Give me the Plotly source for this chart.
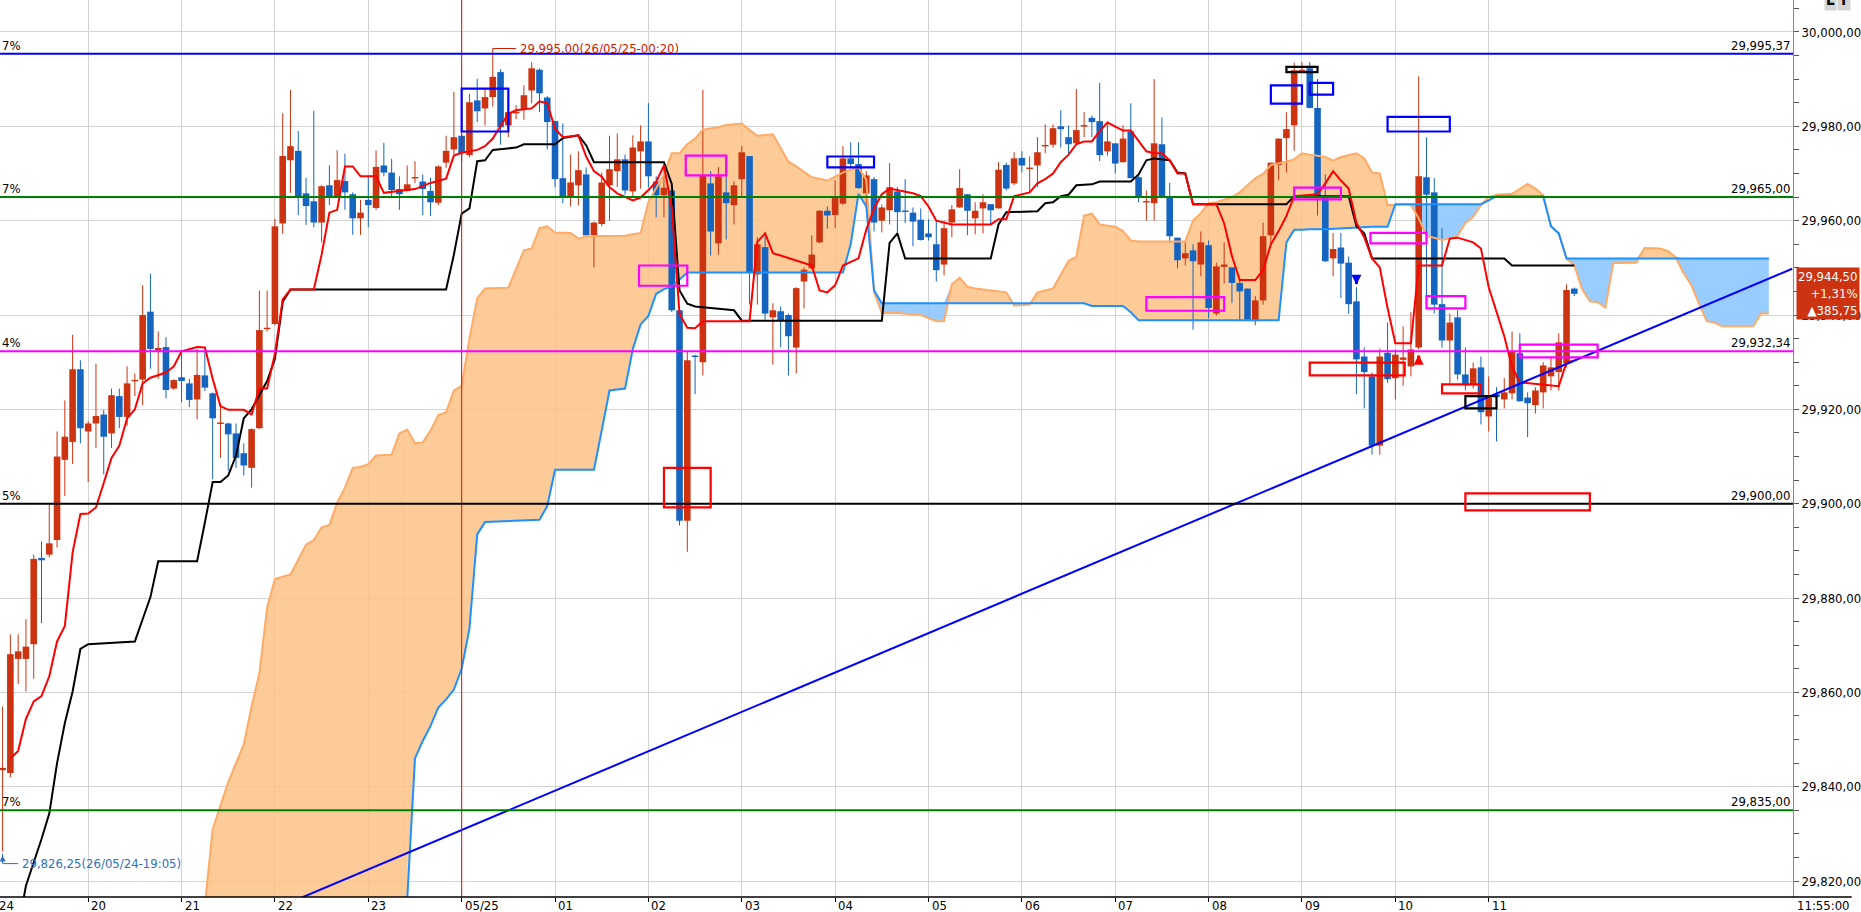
import numpy as np
import pandas as pd
import plotly.graph_objects as go

# 5-minute bars from 26/05/24 19:05 to 26/05/25 11:55
bar_open = [
    29843.5, 29842.9, 29867.1, 29867.1, 29870.2, 29888.5, 29889.2, 29892.3, 29909.3, 29913.1,
    29928.5, 29915.3, 29917.0, 29918.9, 29914.9, 29922.8, 29918.4, 29926.0, 29926.3, 29940.7,
    29932.5, 29933.2, 29924.4, 29926.8, 29925.5, 29922.1, 29927.2, 29923.4, 29917.0, 29917.0,
    29914.9, 29910.7, 29907.6, 29916.0, 29937.0, 29938.1, 29959.4, 29972.8, 29974.8, 29965.8,
    29964.1, 29959.6, 29967.5, 29965.2, 29968.4, 29965.6, 29960.5, 29964.4, 29962.7, 29971.7,
    29970.2, 29966.7, 29966.3, 29969.0, 29968.3, 29966.3, 29963.8, 29972.3, 29975.1, 29978.0,
    29973.9, 29985.5, 29983.8, 29986.2, 29991.5, 29980.2, 29982.8, 29983.6, 29987.6, 29992.0,
    29986.1, 29981.1, 29969.0, 29964.9, 29967.5, 29969.8, 29956.9, 29959.3, 29967.5, 29970.5,
    29973.0, 29966.2, 29974.7, 29976.8, 29968.3, 29965.4, 29966.4, 29941.0, 29896.4, 29931.4,
    29930.0, 29967.9, 29955.2, 29966.0, 29963.3, 29968.8, 29973.7, 29948.6, 29954.4, 29939.5,
    29940.8, 29940.0, 29933.1, 29947.1, 29949.9, 29955.4, 29962.1, 29961.2, 29963.6, 29973.2,
    29972.0, 29965.8, 29968.8, 29960.0, 29962.2, 29966.2, 29962.1, 29961.7, 29960.2, 29957.3,
    29955.0, 29950.7, 29959.6, 29962.8, 29965.6, 29960.5, 29962.6, 29963.5, 29962.6, 29971.8,
    29967.9, 29973.3, 29971.0, 29971.7, 29975.8, 29976.1, 29980.0, 29977.7, 29976.4, 29980.0,
    29981.8, 29981.1, 29974.7, 29976.4, 29972.4, 29978.9, 29969.2, 29963.9, 29963.7, 29976.2,
    29964.9, 29956.4, 29952.0, 29953.7, 29950.7, 29954.8, 29940.3, 29950.2, 29950.1, 29946.8,
    29945.6, 29938.7, 29943.1, 29956.9, 29971.8, 29977.5, 29980.2, 29991.6, 29992.3, 29983.9,
    29965.0, 29952.0, 29954.3, 29951.1, 29942.9, 29931.2, 29927.0, 29912.3, 29932.0, 29926.6,
    29930.5, 29929.1, 29933.1, 29969.2, 29966.0, 29942.3, 29934.6, 29939.5, 29927.4, 29925.1,
    29928.9, 29918.5, 29923.2, 29922.1, 29923.4, 29931.9, 29922.5, 29920.9, 29923.6, 29927.0,
    29927.9, 29929.7, 29945.6,
]
bar_high = [
    29857.0, 29872.3, 29872.3, 29875.5, 29889.2, 29892.0, 29899.9, 29915.3, 29921.9, 29935.8,
    29930.4, 29917.5, 29929.7, 29919.9, 29924.4, 29924.4, 29929.1, 29927.6, 29946.3, 29948.8,
    29936.5, 29935.3, 29926.4, 29931.8, 29926.5, 29932.8, 29932.3, 29923.6, 29921.2, 29917.2,
    29917.0, 29912.8, 29916.0, 29945.2, 29945.2, 29960.4, 29982.8, 29987.7, 29979.0, 29969.1,
    29983.3, 29967.5, 29971.7, 29974.9, 29974.2, 29966.0, 29964.4, 29969.6, 29974.9, 29976.5,
    29973.1, 29969.4, 29971.7, 29972.6, 29969.8, 29969.1, 29971.7, 29978.0, 29987.3, 29978.5,
    29986.9, 29990.1, 29988.2, 29995.0, 29992.1, 29983.4, 29984.5, 29988.7, 29993.6, 29992.3,
    29986.4, 29981.2, 29980.6, 29974.0, 29974.7, 29971.3, 29959.8, 29970.2, 29978.0, 29978.5,
    29974.0, 29978.1, 29980.2, 29984.9, 29969.4, 29972.3, 29966.4, 29941.4, 29932.3, 29931.6,
    29987.7, 29970.5, 29971.4, 29971.7, 29968.3, 29975.8, 29973.7, 29956.5, 29956.9, 29942.5,
    29941.8, 29940.3, 29945.9, 29950.1, 29956.9, 29962.2, 29963.0, 29968.6, 29975.8, 29976.6,
    29976.6, 29970.5, 29969.3, 29963.4, 29972.2, 29967.1, 29968.8, 29962.8, 29962.6, 29960.3,
    29960.0, 29960.0, 29963.3, 29970.9, 29965.6, 29963.9, 29965.6, 29963.5, 29972.4, 29972.3,
    29974.5, 29974.7, 29973.6, 29977.7, 29980.4, 29980.4, 29983.4, 29980.2, 29987.9, 29983.0,
    29982.3, 29989.2, 29980.4, 29976.4, 29980.2, 29984.9, 29969.8, 29966.4, 29990.0, 29981.9,
    29968.0, 29956.4, 29955.8, 29955.0, 29957.7, 29955.8, 29951.1, 29955.4, 29950.1, 29947.4,
    29945.6, 29944.0, 29959.6, 29972.3, 29977.4, 29983.0, 29993.5, 29993.6, 29993.6, 29990.0,
    29969.8, 29957.4, 29957.4, 29952.4, 29945.9, 29933.1, 29927.8, 29932.9, 29938.4, 29932.7,
    29937.6, 29940.6, 29990.6, 29977.7, 29969.0, 29958.4, 29940.3, 29941.0, 29933.1, 29929.9,
    29931.2, 29927.0, 29924.7, 29926.6, 29936.5, 29936.1, 29923.6, 29924.7, 29930.0, 29931.2,
    29936.1, 29946.5, 29945.8,
]
bar_low = [
    29826.25, 29842.0, 29861.8, 29860.2, 29862.9, 29874.7, 29888.6, 29890.7, 29901.6, 29908.4,
    29912.8, 29904.6, 29911.8, 29906.2, 29911.8, 29916.0, 29916.5, 29922.8, 29920.9, 29928.6,
    29926.5, 29922.3, 29924.1, 29921.5, 29920.5, 29917.9, 29923.9, 29905.2, 29909.7, 29907.0,
    29907.6, 29906.0, 29903.4, 29915.8, 29936.5, 29937.8, 29957.2, 29965.9, 29961.2, 29959.1,
    29958.6, 29955.4, 29963.3, 29964.9, 29962.3, 29957.0, 29957.0, 29958.6, 29962.3, 29969.4,
    29965.2, 29962.3, 29966.2, 29968.0, 29961.2, 29961.0, 29963.3, 29971.2, 29974.0, 29972.6,
    29973.4, 29980.9, 29980.2, 29984.2, 29976.1, 29977.7, 29981.5, 29981.4, 29984.9, 29983.0,
    29975.1, 29967.1, 29963.7, 29963.0, 29963.2, 29956.5, 29950.1, 29958.8, 29960.0, 29967.1,
    29965.5, 29965.2, 29966.8, 29967.1, 29960.7, 29960.7, 29940.6, 29895.4, 29889.8, 29923.2,
    29927.2, 29952.6, 29952.8, 29956.0, 29959.2, 29965.2, 29942.2, 29942.2, 29939.0, 29929.5,
    29933.2, 29927.2, 29927.6, 29941.4, 29949.7, 29955.2, 29958.3, 29958.4, 29963.3, 29971.1,
    29966.8, 29963.3, 29957.7, 29957.5, 29959.2, 29956.9, 29959.5, 29954.6, 29955.8, 29955.8,
    29947.1, 29948.4, 29956.5, 29962.7, 29956.9, 29957.1, 29957.3, 29959.2, 29962.6, 29966.4,
    29967.5, 29970.2, 29966.0, 29967.1, 29974.3, 29975.5, 29975.5, 29974.3, 29976.2, 29977.7,
    29977.7, 29972.6, 29973.8, 29970.0, 29972.3, 29969.0, 29963.9, 29960.0, 29960.0, 29964.9,
    29955.4, 29949.9, 29950.5, 29936.9, 29948.2, 29939.3, 29939.9, 29946.7, 29942.5, 29938.7,
    29938.7, 29937.8, 29942.2, 29955.0, 29968.6, 29970.2, 29974.8, 29991.5, 29983.8, 29961.1,
    29951.2, 29948.2, 29943.6, 29940.3, 29923.2, 29920.2, 29910.4, 29910.4, 29925.6, 29922.1,
    29925.0, 29927.0, 29932.7, 29942.2, 29940.3, 29933.1, 29925.5, 29926.3, 29924.0, 29924.4,
    29916.8, 29915.3, 29913.2, 29920.2, 29922.1, 29921.7, 29914.1, 29919.1, 29920.2, 29924.0,
    29924.0, 29928.9, 29944.0,
]
bar_close = [
    29844.0, 29868.1, 29868.7, 29869.7, 29888.3, 29888.0, 29891.6, 29910.0, 29914.2, 29928.5,
    29916.0, 29917.0, 29918.6, 29914.2, 29923.0, 29918.4, 29925.5, 29926.2, 29940.0, 29932.8,
    29933.0, 29924.1, 29926.2, 29926.0, 29922.0, 29927.3, 29924.6, 29918.1, 29917.1, 29914.7,
    29909.7, 29908.1, 29915.8, 29936.8, 29937.3, 29958.8, 29973.7, 29975.8, 29965.1, 29963.1,
    29959.6, 29967.3, 29965.2, 29968.6, 29966.0, 29960.5, 29961.7, 29963.3, 29971.4, 29970.2,
    29966.5, 29965.6, 29967.7, 29969.2, 29966.7, 29963.9, 29971.5, 29974.8, 29977.7, 29974.3,
    29985.1, 29983.2, 29986.2, 29990.5, 29979.8, 29983.0, 29983.0, 29986.6, 29992.3, 29987.0,
    29980.9, 29968.8, 29965.0, 29968.1, 29970.7, 29956.9, 29959.6, 29968.1, 29970.9, 29973.0,
    29966.4, 29975.5, 29976.8, 29969.4, 29965.4, 29967.0, 29941.0, 29896.4, 29930.4, 29931.1,
    29969.5, 29957.7, 29969.4, 29963.7, 29967.5, 29974.5, 29949.0, 29955.0, 29940.3, 29941.0,
    29938.8, 29935.5, 29945.7, 29949.6, 29952.8, 29962.1, 29961.1, 29964.9, 29973.2, 29972.0,
    29966.9, 29969.6, 29959.6, 29962.8, 29967.1, 29961.8, 29961.9, 29959.8, 29955.9, 29956.5,
    29949.5, 29958.4, 29962.4, 29966.9, 29962.1, 29962.1, 29963.9, 29962.2, 29970.8, 29966.8,
    29973.2, 29971.7, 29971.2, 29974.5, 29976.0, 29979.6, 29979.4, 29976.2, 29979.2, 29980.2,
    29980.9, 29973.9, 29976.8, 29972.1, 29977.4, 29969.0, 29965.2, 29964.1, 29976.4, 29965.2,
    29956.7, 29951.6, 29953.1, 29951.4, 29955.4, 29941.5, 29950.3, 29950.7, 29946.8, 29945.0,
    29939.0, 29943.1, 29956.7, 29972.3, 29977.4, 29979.4, 29991.9, 29992.0, 29983.9, 29965.0,
    29951.4, 29954.0, 29950.9, 29942.3, 29930.6, 29927.9, 29912.3, 29931.2, 29926.4, 29931.6,
    29931.0, 29932.7, 29969.4, 29965.5, 29942.2, 29934.6, 29938.4, 29927.4, 29925.1, 29928.7,
    29919.4, 29922.5, 29922.6, 29923.6, 29932.3, 29921.7, 29921.3, 29924.0, 29929.3, 29928.9,
    29934.2, 29945.3, 29944.5,
]

# ichimoku lines (read at their turning points)
tenkan_time = [
    "19:10", "19:15", "19:20", "19:25", "19:30", "19:35", "19:40", "19:45", "19:50", "19:55",
    "20:00", "20:05", "20:10", "20:15", "20:20", "20:25", "20:30", "20:35", "20:40", "20:50",
    "20:55", "21:00", "21:10", "21:15", "21:20", "21:25", "21:30", "21:40", "21:45", "21:50",
    "21:55", "22:00", "22:05", "22:10", "22:25", "22:30", "22:35", "22:40", "22:45", "22:50",
    "22:55", "23:05", "23:10", "23:30", "23:40", "23:50", "23:55", "00:00", "00:10", "00:15",
    "00:20", "00:25", "00:30", "00:35", "00:45", "00:50", "00:55", "01:00", "01:05", "01:15",
    "01:20", "01:25", "01:30", "01:35", "01:40", "01:50", "01:55", "02:00", "02:05", "02:10",
    "02:15", "02:20", "02:25", "02:30", "02:35", "03:05", "03:10", "03:15", "03:20", "03:25",
    "03:35", "03:45", "03:50", "03:55", "04:00", "04:05", "04:15", "04:20", "04:25", "04:30",
    "04:35", "04:50", "04:55", "05:00", "05:05", "05:15", "05:40", "05:45", "05:50", "05:55",
    "06:05", "06:10", "06:15", "06:20", "06:25", "06:30", "06:35", "06:40", "06:45", "06:50",
    "06:55", "07:00", "07:05", "07:10", "07:15", "07:20", "07:25", "07:30", "07:35", "07:40",
    "07:45", "07:50", "08:05", "08:10", "08:15", "08:20", "08:30", "08:35", "08:40", "08:45",
    "08:50", "08:55", "09:10", "09:15", "09:20", "09:25", "09:30", "09:35", "09:40", "09:45",
    "09:50", "09:55", "10:00", "10:10", "10:15", "10:30", "10:35", "10:40", "10:50", "10:55",
    "11:00", "11:05", "11:10", "11:15", "11:20", "11:45", "11:50", "11:55",
]
tenkan = [
    29846.0, 29847.6, 29854.4, 29858.1, 29859.2, 29863.4, 29870.8, 29874.1, 29889.7, 29897.8,
    29897.9, 29899.2, 29904.4, 29909.7, 29912.3, 29918.1, 29920.0, 29925.5, 29926.7, 29927.8,
    29929.1, 29932.3, 29933.2, 29933.1, 29926.5, 29920.7, 29919.9, 29919.9, 29918.9, 29924.4,
    29924.4, 29931.8, 29943.3, 29945.4, 29945.4, 29952.8, 29961.7, 29962.3, 29971.5, 29971.5,
    29969.4, 29969.4, 29965.9, 29966.7, 29968.0, 29968.9, 29973.8, 29974.4, 29975.0, 29975.8,
    29977.4, 29980.0, 29982.7, 29983.4, 29983.8, 29985.3, 29984.9, 29979.5, 29977.7, 29978.1,
    29973.6, 29970.5, 29969.3, 29967.1, 29965.8, 29964.3, 29964.9, 29966.5, 29968.2, 29971.7,
    29962.8, 29940.2, 29937.3, 29937.2, 29938.7, 29938.7, 29955.5, 29957.3, 29953.1, 29952.6,
    29951.6, 29950.5, 29945.2, 29944.8, 29946.3, 29950.5, 29952.0, 29958.1, 29962.6, 29965.6,
    29966.8, 29965.8, 29965.2, 29963.0, 29960.0, 29959.2, 29959.2, 29960.3, 29960.3, 29965.2,
    29966.0, 29967.9, 29968.8, 29970.0, 29972.4, 29974.0, 29976.2, 29976.8, 29976.8, 29979.0,
    29980.8, 29980.0, 29979.1, 29979.1, 29977.0, 29974.7, 29974.3, 29974.3, 29972.8, 29970.0,
    29970.0, 29963.5, 29963.5, 29959.4, 29952.5, 29947.4, 29947.4, 29949.5, 29955.0, 29957.8,
    29961.0, 29965.2, 29965.6, 29967.9, 29970.5, 29968.5, 29966.8, 29959.5, 29956.5, 29952.0,
    29950.1, 29941.5, 29934.0, 29934.0, 29950.5, 29950.5, 29956.2, 29956.4, 29955.4, 29954.1,
    29945.9, 29940.6, 29935.5, 29929.0, 29925.7, 29924.9, 29930.0, 29930.3,
]
kijun_time = [
    "19:15", "19:20", "19:30", "19:35", "19:40", "19:45", "19:50", "19:55", "20:00", "20:30",
    "20:35", "20:40", "20:45", "21:10", "21:15", "21:20", "21:25", "21:30", "21:35", "21:40",
    "21:45", "21:50", "21:55", "22:00", "22:05", "22:10", "23:50", "23:55", "00:00", "00:05",
    "00:10", "00:15", "00:20", "00:35", "00:40", "01:00", "01:05", "01:15", "01:20", "01:25",
    "02:10", "02:15", "02:20", "02:25", "02:30", "02:55", "03:00", "04:30", "04:35", "04:40",
    "04:45", "05:40", "05:45", "05:50", "06:10", "06:15", "06:20", "06:25", "06:30", "06:35",
    "06:45", "06:50", "07:10", "07:15", "07:20", "07:25", "07:35", "07:40", "07:45", "07:50",
    "08:50", "08:55", "09:30", "09:35", "09:40", "09:45", "11:10", "11:15", "11:55",
]
kijun = [
    29810.0, 29819.0, 29828.9, 29834.3, 29845.0, 29853.5, 29860.2, 29869.2, 29870.2, 29870.8,
    29875.5, 29880.2, 29887.8, 29887.8, 29896.0, 29904.6, 29904.6, 29906.0, 29910.2, 29918.1,
    29920.0, 29923.0, 29926.0, 29930.7, 29942.8, 29945.4, 29945.4, 29952.8, 29961.5, 29962.6,
    29972.6, 29972.8, 29975.0, 29975.5, 29976.2, 29976.2, 29977.5, 29978.1, 29976.0, 29972.4,
    29972.4, 29967.8, 29945.2, 29942.4, 29941.8, 29941.0, 29938.8, 29938.8, 29955.3, 29957.3,
    29952.0, 29952.0, 29959.2, 29961.8, 29962.0, 29963.7, 29963.9, 29965.2, 29965.5, 29967.5,
    29967.7, 29968.3, 29968.3, 29969.8, 29972.8, 29973.2, 29972.8, 29970.2, 29970.0, 29963.5,
    29963.5, 29965.2, 29965.2, 29958.8, 29957.3, 29952.0, 29952.0, 29950.5, 29950.5,
]

# leading spans (cloud), read on a shared set of times; span B is below the chart before 23:25
cloud_time = [
    "21:15", "21:20", "21:25", "21:30", "21:35", "21:40", "21:45", "21:50", "21:55", "22:00",
    "22:10", "22:15", "22:20", "22:25", "22:30", "22:35", "22:40", "22:45", "22:50", "22:55",
    "23:00", "23:05", "23:15", "23:20", "23:25", "23:30", "23:35", "23:40", "23:45", "23:50",
    "23:55", "00:00", "00:05", "00:10", "00:15", "00:30", "00:40", "00:45", "00:50", "00:55",
    "01:00", "01:10", "01:15", "01:20", "01:25", "01:30", "01:35", "01:45", "01:50", "01:55",
    "02:00", "02:05", "02:10", "02:15", "02:20", "02:25", "02:30", "02:35", "02:45", "02:50",
    "03:00", "03:05", "03:10", "03:20", "03:25", "03:30", "03:35", "03:40", "03:45", "03:55",
    "04:05", "04:10", "04:15", "04:20", "04:25", "04:30", "04:40", "04:55", "05:05", "05:10",
    "05:15", "05:20", "05:25", "05:30", "05:50", "05:55", "06:05", "06:10", "06:20", "06:30",
    "06:35", "06:40", "06:45", "06:50", "07:00", "07:05", "07:10", "07:15", "07:45", "07:50",
    "07:55", "08:00", "08:05", "08:15", "08:20", "08:30", "08:35", "08:40", "08:45", "08:50",
    "08:55", "09:00", "09:05", "09:15", "09:20", "09:25", "09:35", "09:40", "09:45", "09:50",
    "09:55", "10:00", "10:05", "10:10", "10:15", "10:20", "10:30", "10:35", "10:40", "10:45",
    "10:50", "10:55", "11:00", "11:05", "11:15", "11:25", "11:30", "11:35", "11:40", "11:45",
    "11:50", "11:55", "12:00", "12:05", "12:10", "12:15", "12:20", "12:35", "12:40", "12:50",
    "12:55", "13:00", "13:05", "13:10", "13:15", "13:20", "13:25", "13:30", "13:50", "13:55",
    "14:00",
]
span_a = [
    29815.0, 29831.0, 29836.0, 29841.0, 29845.0, 29849.0, 29857.0, 29864.0, 29878.0, 29884.0,
    29885.0, 29888.0, 29891.3, 29892.3, 29895.0, 29895.5, 29900.2, 29903.4, 29907.6, 29907.8,
    29908.4, 29910.2, 29910.4, 29914.9, 29915.7, 29912.8, 29913.0, 29915.5, 29918.8, 29919.4,
    29924.0, 29925.0, 29935.0, 29943.5, 29945.6, 29945.8, 29953.7, 29954.1, 29958.4, 29958.8,
    29957.5, 29957.4, 29956.2, 29956.7, 29956.7, 29956.7, 29956.7, 29956.8, 29957.1, 29957.4,
    29964.0, 29966.8, 29969.8, 29974.3, 29974.3, 29976.2, 29977.4, 29979.3, 29979.8, 29980.3,
    29980.6, 29979.2, 29978.0, 29978.3, 29975.5, 29972.5, 29971.5, 29970.3, 29969.2, 29968.5,
    29970.2, 29970.8, 29971.3, 29968.7, 29944.8, 29940.4, 29940.4, 29940.0, 29938.7, 29938.7,
    29946.5, 29947.9, 29946.0, 29945.6, 29944.8, 29942.0, 29942.2, 29944.8, 29945.6, 29951.5,
    29952.3, 29961.1, 29961.5, 29959.2, 29958.7, 29957.8, 29955.8, 29955.6, 29955.6, 29960.0,
    29961.6, 29963.7, 29963.9, 29965.0, 29966.0, 29969.0, 29969.9, 29971.8, 29972.1, 29972.5,
    29973.0, 29974.3, 29974.0, 29973.5, 29972.7, 29973.5, 29974.3, 29973.2, 29970.2, 29970.0,
    29963.3, 29963.3, 29963.5, 29963.3, 29960.5, 29956.8, 29955.9, 29956.2, 29956.8, 29959.5,
    29960.8, 29963.3, 29965.0, 29965.5, 29965.7, 29967.8, 29966.8, 29965.4, 29958.8, 29957.3,
    29952.0, 29950.5, 29945.5, 29942.9, 29942.7, 29941.6, 29951.0, 29951.1, 29954.2, 29954.1,
    29953.6, 29952.3, 29949.0, 29946.5, 29942.5, 29938.7, 29938.4, 29937.6, 29937.6, 29940.3,
    29940.3,
]
span_b = [
    None, None, None, None, None, None, None, None, None, None,
    None, None, None, None, None, None, None, None, None, None,
    None, None, None, None, 29816.0, 29846.0, 29849.7, 29852.9, 29856.8, 29858.5,
    29860.6, 29865.0, 29873.5, 29893.5, 29896.1, 29896.3, 29896.4, 29896.5, 29896.6, 29899.5,
    29907.2, 29907.2, 29907.2, 29907.2, 29907.2, 29915.5, 29924.0, 29924.4, 29932.8, 29938.0,
    29939.8, 29944.5, 29945.5, 29946.0, 29947.5, 29949.0, 29949.0, 29949.0, 29949.0, 29949.0,
    29949.0, 29949.0, 29949.0, 29949.0, 29949.0, 29949.0, 29949.0, 29949.0, 29949.0, 29949.0,
    29949.0, 29955.0, 29965.7, 29963.0, 29945.2, 29942.5, 29942.5, 29942.5, 29942.5, 29942.5,
    29942.5, 29942.5, 29942.5, 29942.5, 29942.5, 29942.5, 29942.5, 29942.5, 29942.5, 29942.5,
    29942.5, 29942.5, 29941.9, 29941.9, 29941.9, 29941.9, 29940.6, 29938.9, 29938.9, 29938.9,
    29938.9, 29938.9, 29938.9, 29938.9, 29938.9, 29938.9, 29938.9, 29938.9, 29938.9, 29955.4,
    29958.1, 29958.1, 29958.2, 29958.2, 29958.3, 29958.3, 29958.5, 29958.6, 29958.7, 29958.7,
    29958.7, 29963.5, 29963.5, 29963.5, 29963.5, 29963.5, 29963.5, 29963.5, 29963.5, 29963.5,
    29963.5, 29963.5, 29964.3, 29965.2, 29965.2, 29965.2, 29965.2, 29965.2, 29958.8, 29957.3,
    29952.0, 29952.0, 29952.0, 29952.0, 29952.0, 29952.0, 29952.0, 29952.0, 29952.0, 29952.0,
    29952.0, 29952.0, 29952.0, 29952.0, 29952.0, 29952.0, 29952.0, 29952.0, 29952.0, 29952.0,
    29952.0,
]

level_price = [29995.37, 29965.00, 29932.34, 29900.00, 29835.00]
level_pct = ["7%", "7%", "4%", "5%", "7%"]
level_color = ["#0000FF", "#008000", "#FF00FF", "#000000", "#008000"]

trend_time = ["22:15", "14:15"]
trend_price = [29816.2, 29949.8]

box_start = ["00:00", "01:54", "02:24", "02:10", "03:55", "07:20", "08:40", "08:50", "09:05",
             "08:55", "09:55", "09:44", "09:05", "10:20", "10:30", "10:45", "11:20", "10:45"]
box_end = ["00:30", "02:25", "02:50", "02:40", "04:25", "08:10", "09:00", "09:10", "09:20",
           "09:25", "10:35", "10:20", "10:06", "10:45", "10:55", "11:05", "12:10", "12:05"]
box_low = [29978.9, 29946.2, 29969.6, 29899.2, 29971.3, 29940.9, 29984.8, 29991.5, 29986.7,
           29964.5, 29978.9, 29955.2, 29927.2, 29941.4, 29923.4, 29920.2, 29931.0, 29898.6]
box_high = [29988.0, 29950.5, 29973.8, 29907.6, 29973.6, 29943.8, 29988.7, 29992.6, 29989.2,
            29967.0, 29982.0, 29957.4, 29929.9, 29944.0, 29925.3, 29922.8, 29933.7, 29902.2]
box_color = ["#0000FF", "#FF00FF", "#FF00FF", "#FF0000", "#0000FF", "#FF00FF", "#0000FF",
             "#000000", "#0000FF", "#FF00FF", "#0000FF", "#FF00FF", "#FF0000", "#FF00FF",
             "#FF0000", "#000000", "#FF00FF", "#FF0000"]

hour_time = ["20:00", "21:00", "22:00", "23:00", "00:00", "01:00", "02:00", "03:00",
             "04:00", "05:00", "06:00", "07:00", "08:00", "09:00", "10:00", "11:00"]
hour_label = ["20", "21", "22", "23", "05/25", "01", "02", "03",
              "04", "05", "06", "07", "08", "09", "10", "11"]

high_text = "29,995,00(26/05/25-00:20)"
low_text = "29,826,25(26/05/24-19:05)"
last_tag = "29,944,50<br>+1,31%<br>\u25b2385,75"

UP = "#CC3311"
DOWN = "#1565C0"
FONT = "Liberation Sans Narrow, DejaVu Sans Condensed, Arial Narrow, Liberation Sans, sans-serif"


def stamp(hhmm):
    day = "2026-05-24" if int(hhmm[:2]) >= 19 else "2026-05-25"
    return f"{day} {hhmm}"


def stamps(lst):
    return [stamp(t) for t in lst]


def price_fmt(v):
    return f"{v:,.2f}".replace(".", ",")


bar_time = list(pd.date_range("2026-05-24 19:05", periods=len(bar_open), freq="5min"))
ct = stamps(cloud_time)

fig = go.Figure()

# cloud fills: orange where span A is on top, light blue where span B is on top
ib = next(i for i, v in enumerate(span_b) if v is not None)
fig.add_trace(go.Scatter(x=ct[:ib + 1], y=span_a[:ib + 1], mode="lines", line=dict(width=0),
                         fill="tozeroy", fillcolor="rgba(253,194,134,0.85)", hoverinfo="skip"))
a = np.array(span_a[ib:], dtype=float)
b = np.array(span_b[ib:], dtype=float)
top = np.maximum(a, b)
fig.add_trace(go.Scatter(x=ct[ib:], y=b, mode="lines", line=dict(width=0), hoverinfo="skip"))
fig.add_trace(go.Scatter(x=ct[ib:], y=top, mode="lines", line=dict(width=0), fill="tonexty",
                         fillcolor="rgba(253,194,134,0.85)", hoverinfo="skip"))
fig.add_trace(go.Scatter(x=ct[ib:], y=a, mode="lines", line=dict(width=0), hoverinfo="skip"))
fig.add_trace(go.Scatter(x=ct[ib:], y=top, mode="lines", line=dict(width=0), fill="tonexty",
                         fillcolor="rgba(135,195,255,0.85)", hoverinfo="skip"))

# candles drawn as line segments so they sit above the cloud fill
for rising, color in ((True, UP), (False, DOWN)):
    wx, wy, bx, by = [], [], [], []
    for t, o, h, l, c in zip(bar_time, bar_open, bar_high, bar_low, bar_close):
        if (c >= o) != rising:
            continue
        lo, hi = min(o, c), max(o, c)
        if hi - lo < 0.3:
            mid = (hi + lo) / 2
            lo, hi = mid - 0.15, mid + 0.15
        wx += [t, t, None]
        wy += [l, h, None]
        bx += [t, t, None]
        by += [lo, hi, None]
    fig.add_trace(go.Scatter(x=wx, y=wy, mode="lines", line=dict(color=color, width=1), hoverinfo="skip"))
    fig.add_trace(go.Scatter(x=bx, y=by, mode="lines", line=dict(color=color, width=6.6), hoverinfo="skip"))

fig.add_trace(go.Scatter(x=ct, y=span_a, mode="lines", line=dict(color="#FFAA66", width=2), hoverinfo="skip"))
fig.add_trace(go.Scatter(x=ct[ib:], y=span_b[ib:], mode="lines", line=dict(color="#1E90FF", width=2), hoverinfo="skip"))
fig.add_trace(go.Scatter(x=stamps(kijun_time), y=kijun, mode="lines", line=dict(color="#000000", width=2), hoverinfo="skip"))
fig.add_trace(go.Scatter(x=stamps(tenkan_time), y=tenkan, mode="lines", line=dict(color="#FF0000", width=2), hoverinfo="skip"))
fig.add_trace(go.Scatter(x=stamps(trend_time), y=trend_price, mode="lines", line=dict(color="#0000FF", width=2), hoverinfo="skip"))

# high / low markers and signal arrows
fig.add_trace(go.Scatter(x=stamps(["00:20", "00:20", "00:35"]), y=[29995.0, 29996.5, 29996.5],
                         mode="lines", line=dict(color="#D02000", width=1), hoverinfo="skip"))
fig.add_trace(go.Scatter(x=stamps(["19:05", "19:05", "19:15"]), y=[29825.8, 29823.7, 29823.7],
                         mode="lines", line=dict(color="#2F6FC0", width=1), hoverinfo="skip"))
fig.add_trace(go.Scatter(x=stamps(["19:05"]), y=[29825.4], mode="markers",
                         marker=dict(symbol="arrow-up", size=6, color="#2F6FC0"), hoverinfo="skip"))
fig.add_trace(go.Scatter(x=stamps(["09:35", "09:35"]), y=[29948.3, 29946.6], mode="lines",
                         line=dict(color="#0000FF", width=3), hoverinfo="skip"))
fig.add_trace(go.Scatter(x=stamps(["09:35"]), y=[29946.4], mode="markers",
                         marker=dict(symbol="arrow-down", size=10, color="#0000FF"), hoverinfo="skip"))
fig.add_trace(go.Scatter(x=stamps(["10:15", "10:15"]), y=[29929.9, 29931.4], mode="lines",
                         line=dict(color="#FF0000", width=3), hoverinfo="skip"))
fig.add_trace(go.Scatter(x=stamps(["10:15"]), y=[29931.6], mode="markers",
                         marker=dict(symbol="arrow-up", size=10, color="#FF0000"), hoverinfo="skip"))

shapes = [dict(type="line", xref="x", yref="paper", x0=stamp("00:00"), x1=stamp("00:00"), y0=0, y1=1,
               line=dict(color="#FF0000", width=1), layer="above")]
for p, c in zip(level_price, level_color):
    shapes.append(dict(type="line", xref="paper", yref="y", x0=0, x1=1, y0=p, y1=p,
                       line=dict(color=c, width=2), layer="above"))
for s, e, lo, hi, c in zip(box_start, box_end, box_low, box_high, box_color):
    shapes.append(dict(type="rect", xref="x", yref="y", x0=stamp(s), x1=stamp(e), y0=lo, y1=hi,
                       line=dict(color=c, width=2.2), fillcolor="rgba(0,0,0,0)", layer="above"))
shapes.append(dict(type="line", xref="paper", yref="paper", x0=0, x1=1861 / 1802, y0=0, y1=0,
                   line=dict(color="#000000", width=1.5)))

ann = []
for p, pct in zip(level_price, level_pct):
    ann.append(dict(x=1, xref="paper", y=p, yref="y", xanchor="right", yanchor="bottom",
                    text=price_fmt(p), showarrow=False, font=dict(size=13, color="#000"), yshift=-1))
    ann.append(dict(x=0, xref="paper", y=p, yref="y", xanchor="left", yanchor="bottom",
                    text=pct, showarrow=False, font=dict(size=13, color="#000"), yshift=-1))
for t, lab in zip(hour_time, hour_label):
    ann.append(dict(x=stamp(t), xref="x", y=0, yref="paper", xanchor="left", yanchor="top",
                    text=lab, showarrow=False, font=dict(size=13, color="#000"), xshift=1, yshift=1))
ann.append(dict(x=0, xref="paper", y=0, yref="paper", xanchor="left", yanchor="top", text="24",
                showarrow=False, font=dict(size=13, color="#000"), xshift=-3, yshift=1))
ann.append(dict(x=1861 / 1802, xref="paper", y=0, yref="paper", xanchor="right", yanchor="top",
                text="11:55:00", showarrow=False, font=dict(size=13, color="#000"), yshift=1))
ann.append(dict(x=stamp("00:36"), xref="x", y=29996.5, yref="y", xanchor="left", yanchor="middle",
                text=high_text, showarrow=False, font=dict(size=13, color="#D02000")))
ann.append(dict(x=stamp("19:16"), xref="x", y=29823.7, yref="y", xanchor="left", yanchor="middle",
                text=low_text, showarrow=False, font=dict(size=13, color="#2F6FC0")))
ann.append(dict(x=1, xref="paper", y=bar_close[-1], yref="y", xanchor="left", yanchor="middle",
                text=last_tag, showarrow=False, align="right", bgcolor=UP, borderpad=1, xshift=3,
                font=dict(size=13, color="#FFFFFF")))
ann.append(dict(x=1840 / 1802, xref="paper", y=1, yref="paper", xanchor="center", yanchor="middle",
                text="<b>L</b>", showarrow=False, bgcolor="#D4D4D4", font=dict(size=15, color="#000")))
ann.append(dict(x=1853 / 1802, xref="paper", y=1, yref="paper", xanchor="center", yanchor="middle",
                text="<b>T</b>", showarrow=False, bgcolor="#D4D4D4", font=dict(size=15, color="#000")))

fig.update_layout(
    width=1861, height=912,
    margin=dict(l=0, r=59, t=0, b=15),
    paper_bgcolor="#FFFFFF", plot_bgcolor="#FFFFFF",
    showlegend=False, hovermode=False,
    separators=",,",
    font=dict(family=FONT, size=13, color="#000000"),
    shapes=shapes, annotations=ann,
    xaxis=dict(
        type="date", range=["2026-05-24 19:03:20", "2026-05-25 14:15:32"],
        tickvals=stamps(["19:00"] + hour_time), showticklabels=False,
        ticks="outside", ticklen=4, tickcolor="#000000",
        showgrid=True, gridcolor="#D3D3D3", gridwidth=1,
        showline=False, zeroline=False, fixedrange=True,
    ),
    yaxis=dict(
        side="right", range=[29816.62, 30006.78],
        tick0=29820, dtick=20, tickformat=",.2f",
        ticks="outside", ticklen=5, tickcolor="#555555",
        minor=dict(tick0=29820, dtick=5, ticks="outside", ticklen=5, tickcolor="#555555", showgrid=False),
        showgrid=True, gridcolor="#D3D3D3", gridwidth=1,
        showline=True, linecolor="#888888", linewidth=1, zeroline=False,
        tickfont=dict(size=13, color="#000000"), fixedrange=True,
    ),
)

fig.write_html("out.html", config={"displayModeBar": False},
               post_script="document.body.style.margin='0px';document.body.style.overflow='hidden';")
